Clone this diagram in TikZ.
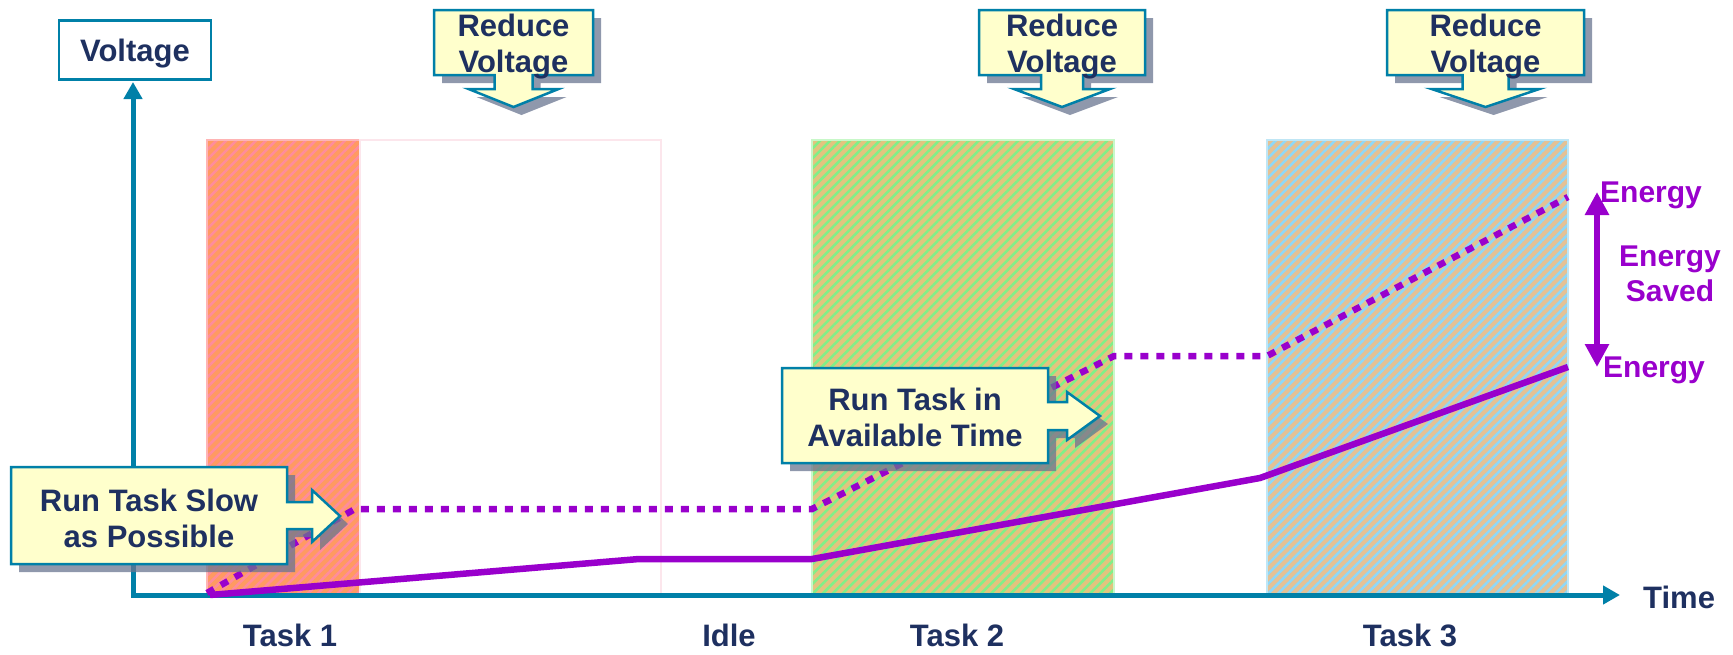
\documentclass[tikz,border=0pt]{standalone}
\usepackage{fontspec}
\setmainfont{Liberation Sans}
\usetikzlibrary{arrows.meta,patterns.meta}
\definecolor{axisblue}{HTML}{0080A8}
\definecolor{navy}{HTML}{1E3060}
\definecolor{energy}{HTML}{9900CC}
\definecolor{noteyellow}{HTML}{FFFFCC}
\definecolor{shade}{HTML}{6A7590}
\definecolor{salmon}{HTML}{FF9A62}
\definecolor{salmonline}{HTML}{FF8C9C}
\definecolor{salmonedge}{HTML}{FFB4B4}
\definecolor{idleedge}{HTML}{FCE6EC}
\definecolor{tanA}{HTML}{E2C47E}
\definecolor{greenline}{HTML}{80F088}
\definecolor{greenedge}{HTML}{C8F8C8}
\definecolor{tanB}{HTML}{E3C195}
\definecolor{blueline}{HTML}{8ED8F8}
\definecolor{blueedge}{HTML}{BFE6F5}
\tikzset{
  hatch/.style     = {pattern={Lines[angle=45,distance=7pt,line width=2.5pt]}},
  task1/.style     = {fill=salmon, postaction={hatch, pattern color=salmonline},
                      postaction={draw=salmonedge, line width=1.5pt}},
  task2/.style     = {fill=tanA, postaction={hatch, pattern color=greenline},
                      postaction={draw=greenedge, line width=2pt}},
  task3/.style     = {fill=tanB, postaction={hatch, pattern color=blueline},
                      postaction={draw=blueedge, line width=2pt}},
  idlebox/.style   = {draw=idleedge, line width=1.5pt},
  axis/.style      = {line width=5pt, axisblue,
                      {Triangle[length=17pt,width=18pt]}-{Triangle[length=17pt,width=18pt]}},
  axislabel/.style = {font=\fontsize{31}{36}\selectfont\bfseries, text=navy, inner sep=0pt},
  vlabel/.style    = {axislabel, draw=axisblue, line width=2.5pt, fill=white,
                      minimum width=152pt, minimum height=59pt, text depth=0pt},
  notetext/.style  = {axislabel, align=center},
  callout/.style   = {draw=axisblue, line width=2.5pt, fill=noteyellow, line join=miter,
                      preaction={draw=none, fill=shade, fill opacity=0.75,
                                 transform canvas={shift={(8pt,-8pt)}}}},
  fullspeed/.style = {energy, line width=6.5pt, dash pattern=on 8pt off 8pt},
  scaled/.style    = {energy, line width=6.5pt, line join=round},
  saved/.style     = {energy, line width=6.5pt,
                      {Triangle[length=23pt,width=23pt]}-{Triangle[length=23pt,width=23pt]}},
  energylab/.style = {font=\fontsize{30}{35}\selectfont\bfseries, text=energy, inner sep=0pt},
}
\begin{document}
\begin{tikzpicture}[x=1pt,y=-1pt]
  \useasboundingbox (0,0) rectangle (1733,654);
  % task slots
  \path[task1] (207,140) rectangle (360,595);
  \draw[idlebox] (360,140) rectangle (661,595);
  \path[task2] (812,140) rectangle (1114,595);
  \path[task3] (1267,140) rectangle (1568,595);

  % axes
  \coordinate (origin) at (133,595);
  \coordinate (vend) at (133,82);
  \coordinate (hend) at (1620,595);
  \draw[axis] (vend) -- (origin) -- (hend);
  \node[vlabel] (volt) at (135,50) {Voltage};
  \node[axislabel, anchor=base west] (time) at (1643,608) {Time};

  % energy curves
  \draw[fullspeed] (207,593) -- (355,509) -- (812,509) -- (1114,356) -- (1267,356) -- (1568,197);
  \draw[scaled] (210,595) -- (639,559) -- (812,559) -- (1260,478) -- (1568,367);
  \coordinate (etop) at (1597,192);
  \coordinate (ebot) at (1597,367);
  \draw[saved] (etop) -- (ebot);
  \node[energylab, anchor=base west] (ehigh) at (1600,202) {Energy};
  \node[energylab, align=center] (esaved) at (1670,273.75) {Energy\\Saved};
  \node[energylab, anchor=base west] (elow) at (1603,377) {Energy};

  % reduce voltage notes
  \foreach \xl/\xr/\sh/\wh [count=\i] in {434/593/19/45, 979/1145/21/48, 1387/1584/23/54} {
    \pgfmathsetmacro\xc{(\xl+\xr)/2}
    \path[callout] (\xl,10) -- (\xr,10) -- (\xr,75) -- ({\xc+\sh},75) -- ({\xc+\sh},89)
      -- ({\xc+\wh},89) -- (\xc,107) -- ({\xc-\wh},89) -- ({\xc-\sh},89) -- ({\xc-\sh},75)
      -- (\xl,75) -- cycle;
    \node[notetext] (reduce\i) at (\xc,46.7) {Reduce\\Voltage};
  }

  % run task notes
  \path[callout] (11,467) -- (287,467) -- (287,502) -- (312,502) -- (312,490) -- (340,516)
    -- (312,542) -- (312,529) -- (287,529) -- (287,564) -- (11,564) -- cycle;
  \node[notetext] (slow) at (149,518) {Run Task Slow\\as Possible};
  \path[callout] (782,368) -- (1048,368) -- (1048,402) -- (1067,402) -- (1067,392) -- (1100,416)
    -- (1067,440) -- (1067,430) -- (1048,430) -- (1048,463) -- (782,463) -- cycle;
  \node[notetext] (avail) at (915,417.5) {Run Task in\\Available Time};

  % slot labels
  \node[axislabel, anchor=base] (lab1) at (290,646) {Task 1};
  \node[axislabel, anchor=base] (labidle) at (729,646) {Idle};
  \node[axislabel, anchor=base] (lab2) at (957,646) {Task 2};
  \node[axislabel, anchor=base] (lab3) at (1410,646) {Task 3};
\end{tikzpicture}
\end{document}
